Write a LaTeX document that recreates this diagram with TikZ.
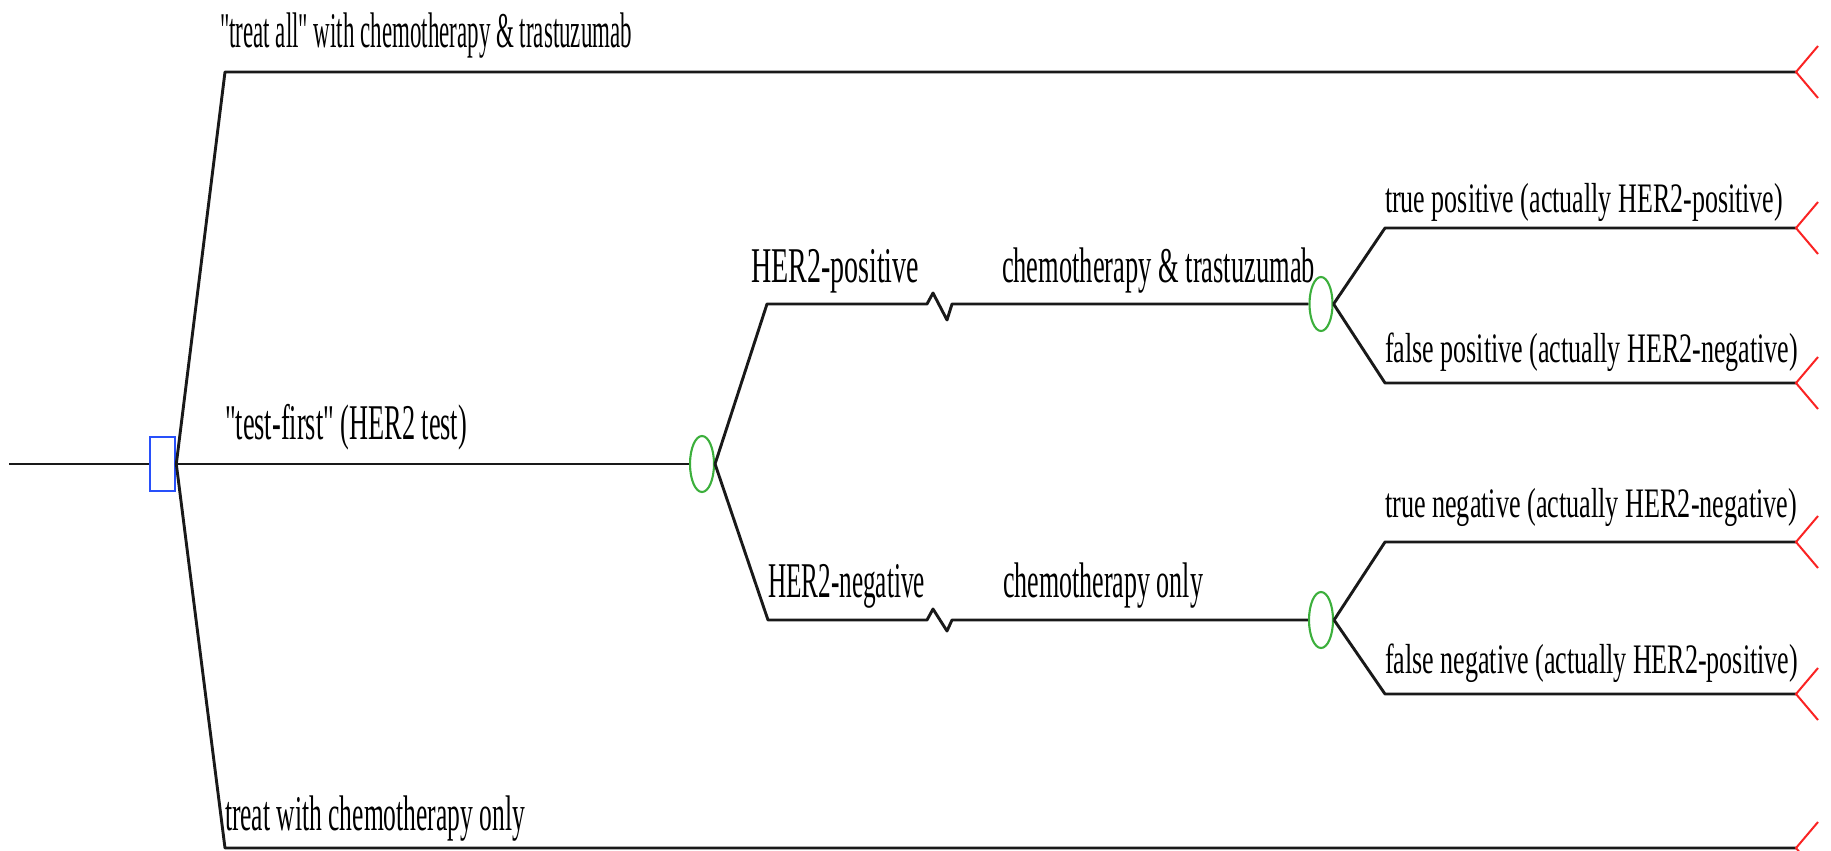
\documentclass[tikz,border=0pt]{standalone}
\usepackage{fontspec}
\setmainfont{Liberation Serif}[Ligatures=TeXOff]
\usepackage{graphicx}
\usetikzlibrary{shapes.geometric}
\definecolor{decblue}{RGB}{40,80,250}
\definecolor{chgreen}{RGB}{60,175,60}
\definecolor{termred}{RGB}{250,35,35}
\definecolor{linegray}{RGB}{25,25,25}
\newcommand{\lbl}[3]{\resizebox{#1pt}{\height}{\fontsize{#2}{#2}\selectfont #3}}
\tikzset{
  branch/.style={line width=2.9pt, draw=linegray, line join=round},
  decnode/.style={rectangle, draw=decblue, line width=2.6pt, minimum width=25pt, minimum height=54pt, inner sep=0pt, fill=white},
  chnode/.style={ellipse, draw=chgreen, line width=2.1pt, minimum width=24pt, minimum height=56pt, inner sep=0pt},
  termtip/.style={draw=termred, line width=2pt, line join=miter},
  lab/.style={anchor=base west, inner sep=0pt, outer sep=0pt}
}
\begin{document}
\begin{tikzpicture}[x=1pt,y=-1pt]
\useasboundingbox (0,0) rectangle (1831,851);
% nodes
\coordinate (root) at (9,464);
\node[decnode] (dec) at (162.5,464) {};
\node[chnode] (c1) at (702,464) {};
\node[chnode, minimum width=23pt, minimum height=54pt] (c2) at (1321,304) {};
\node[chnode] (c3) at (1321,620) {};
% bend points
\coordinate (b1) at (225,72);
\coordinate (b6) at (225,848);
\coordinate (bp) at (767,304);
\coordinate (bn) at (768,620);
\coordinate (b2) at (1385,228);
\coordinate (b3) at (1385,383);
\coordinate (b4) at (1385,542);
\coordinate (b5) at (1385,694);
% terminals
\coordinate (t1) at (1796,72);
\coordinate (t2) at (1796,228);
\coordinate (t3) at (1796,383);
\coordinate (t4) at (1796,542);
\coordinate (t5) at (1796,694);
\coordinate (t6) at (1796,848);
% connectors
\draw[branch] (root) -- (dec.west);
\draw[branch] (dec.east) -- (b1) -- (t1);
\draw[branch] (dec.east) -- (b6) -- (t6);
\draw[branch] (dec.east) -- (c1.west);
\draw[branch] (c1.east) -- (bp) -- (927,304) -- (933,293) -- (947,320) -- (952,304) -- (c2.west);
\draw[branch] (c1.east) -- (bn) -- (927,620) -- (933,609) -- (947,631) -- (952,620) -- (c3.west);
\draw[branch] (c2.east) -- (b2) -- (t2);
\draw[branch] (c2.east) -- (b3) -- (t3);
\draw[branch] (c3.east) -- (b4) -- (t4);
\draw[branch] (c3.east) -- (b5) -- (t5);
% terminal tips
\foreach \t in {t1,t2,t3,t4,t5,t6}
  \draw[termtip] ([xshift=22pt,yshift=26pt]\t) -- (\t) -- ([xshift=22pt,yshift=-26pt]\t);
% labels
\node[lab] (l1) at (220,48) {\lbl{412}{50}{"treat all" with chemotherapy \& trastuzumab}};
\node[lab] (l2) at (225,439) {\lbl{242}{50}{"test-first" (HER2 test)}};
\node[lab] (l3) at (225,830) {\lbl{300}{50}{treat with chemotherapy only}};
\node[lab] (l4) at (751,282) {\lbl{168}{50}{HER2-positive}};
\node[lab] (l5) at (1002,282) {\lbl{313}{50}{chemotherapy \& trastuzumab}};
\node[lab] (l6) at (768,597) {\lbl{157}{50}{HER2-negative}};
\node[lab] (l7) at (1003,597) {\lbl{200}{50}{chemotherapy only}};
\node[lab] (l8) at (1385,212) {\lbl{398}{42}{true positive (actually HER2-positive)}};
\node[lab] (l9) at (1385,362) {\lbl{413}{42}{false positive (actually HER2-negative)}};
\node[lab] (l10) at (1385,517) {\lbl{412}{42}{true negative (actually HER2-negative)}};
\node[lab] (l11) at (1385,673) {\lbl{413}{42}{false negative (actually HER2-positive)}};
\end{tikzpicture}
\end{document}
